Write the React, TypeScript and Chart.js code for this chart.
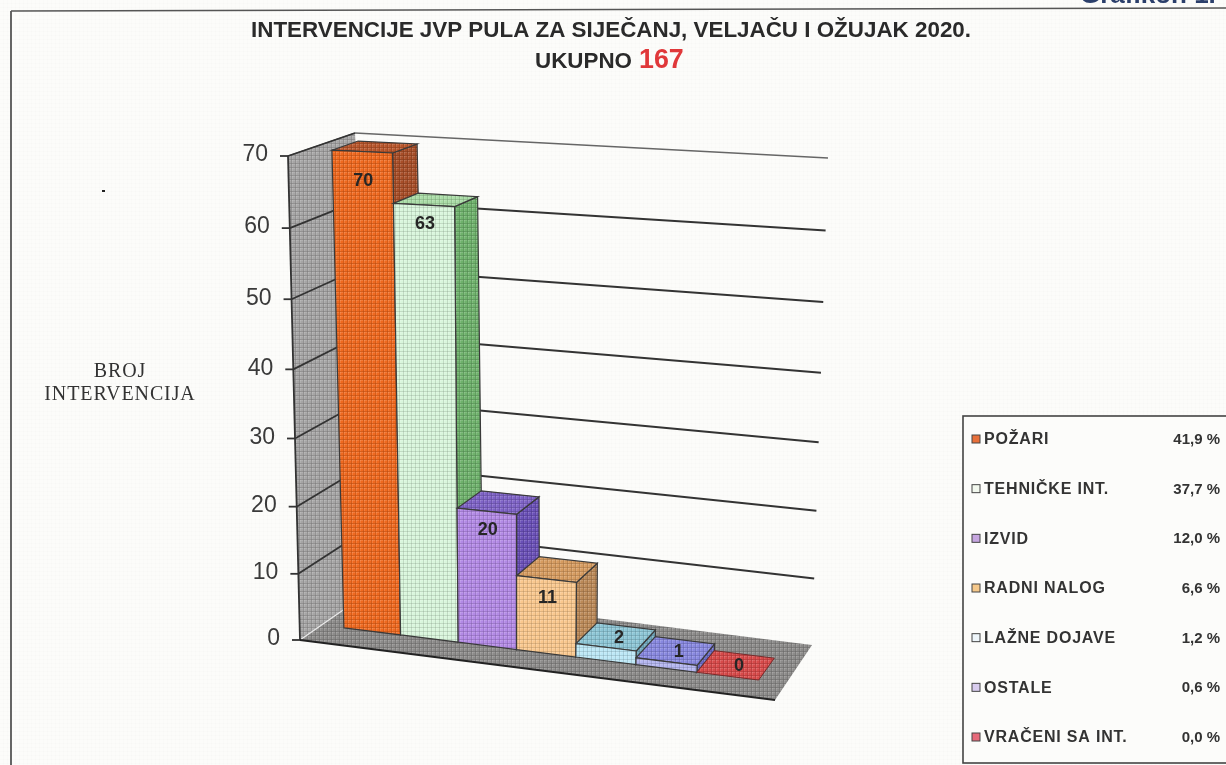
import React, { useEffect, useRef } from "react";
import { Chart, registerables } from "chart.js";

Chart.register(...registerables);

const categories = ["POŽARI", "TEHNIČKE INT.", "IZVID", "RADNI NALOG", "LAŽNE DOJAVE", "OSTALE", "VRAČENI SA INT."];
const values = [70, 63, 20, 11, 2, 1, 0];
const shares = ["41,9 %", "37,7 %", "12,0 %", "6,6 %", "1,2 %", "0,6 %", "0,0 %"];
const frontColors = ["#F0691F", "#D9F6DC", "#B38AE6", "#FAC88E", "#BCE8F6", "#B4B6F0", "#DB4A4A"];
const topColors = ["#B9562B", "#A9DCA6", "#7E62C6", "#D79C60", "#8DC6D6", "#8888E0", "#D84A4A"];
const sideColors = ["#A84E28", "#6FB26C", "#6A50B8", "#BC8A58", "#6FA8BE", "#6A6AC4", "#B83838"];
const swatchColors = ["#E8703A", "#F2F8EE", "#C6A6E0", "#F5C88A", "#EEF6FA", "#D8CCEE", "#E66A7A"];
const titleLine1 = "INTERVENCIJE JVP PULA ZA SIJEČANJ, VELJAČU I OŽUJAK 2020.";
const titleLine2 = "UKUPNO";
const totalText = "167";
const axisTitle = ["BROJ", "INTERVENCIJA"];
const cornerText = "Grafikon 1.";

type P = [number, number];
// Corners of the 3D box the scales are projected onto: front/back, bottom/top, left/right
const FBL: P = [300, 640], FTL: P = [288, 156], BBL: P = [372, 590], BTL: P = [355, 133];
const FBR: P = [775, 700], FTR: P = [795, 178], BBR: P = [812, 645], BTR: P = [828, 158];
const lerp = (a: P, b: P, t: number): P => [a[0] + (b[0] - a[0]) * t, a[1] + (b[1] - a[1]) * t];
const project = (u: number, v: number, w: number): P => {
  const front = lerp(lerp(FBL, FBR, u), lerp(FTL, FTR, u), v);
  const back = lerp(lerp(BBL, BBR, u), lerp(BTL, BTR, u), v);
  return lerp(front, back, w);
};
const U0 = 0.048, USPAN = 0.893, W0 = 0.3, W1 = 0.7, PERSP = 0.05;

function makeTexture(ctx: CanvasRenderingContext2D) {
  const c = document.createElement("canvas");
  c.width = 4; c.height = 4;
  const t = c.getContext("2d")!;
  t.fillStyle = "rgba(0,0,0,0.11)";
  t.fillRect(0, 3, 4, 1);
  t.fillRect(3, 0, 1, 4);
  t.fillStyle = "rgba(255,255,255,0.12)";
  t.fillRect(0, 0, 3, 1);
  t.fillRect(0, 0, 1, 3);
  return ctx.createPattern(c, "repeat")!;
}

function face(ctx: CanvasRenderingContext2D, pts: P[], fill: string, tex: CanvasPattern | null, stroke = "#3a3a3a", lw = 1.2) {
  ctx.beginPath();
  pts.forEach((p, i) => (i ? ctx.lineTo(p[0], p[1]) : ctx.moveTo(p[0], p[1])));
  ctx.closePath();
  ctx.fillStyle = fill;
  ctx.fill();
  if (tex) { ctx.fillStyle = tex; ctx.fill(); }
  if (lw > 0) { ctx.strokeStyle = stroke; ctx.lineWidth = lw; ctx.stroke(); }
}

function line(ctx: CanvasRenderingContext2D, a: P, b: P, color: string, lw: number) {
  ctx.beginPath();
  ctx.moveTo(a[0], a[1]);
  ctx.lineTo(b[0], b[1]);
  ctx.strokeStyle = color;
  ctx.lineWidth = lw;
  ctx.stroke();
}

const scene3d = {
  id: "scene3d",
  beforeDatasetsDraw(chart: any) {
    const ctx: any = chart.ctx;
    const area = chart.chartArea;
    const yScale = chart.scales.y;
    const tex = makeTexture(ctx);
    const toU = (px: number) => {
      const t = (px - area.left) / (area.right - area.left);
      return U0 + USPAN * (t + PERSP * t * (t - 1));
    };
    const toV = (py: number) => {
      const v = (area.bottom - py) / (area.bottom - area.top);
      return v + PERSP * v * (v - 1);
    };
    const tickV = yScale.ticks.map((t: any) => ({ value: t.value, v: toV(yScale.getPixelForValue(t.value)) }));

    ctx.save();
    // paper
    ctx.fillStyle = "#FCFCFA";
    ctx.fillRect(0, 0, chart.width, chart.height);
    ctx.fillStyle = tex; ctx.globalAlpha = 0.1;
    ctx.fillRect(0, 0, chart.width, chart.height);
    ctx.globalAlpha = 1;

    // page frame
    line(ctx, [11, 11], [1226, 8], "#555", 1.6);
    line(ctx, [11, 11], [11, 765], "#555", 1.8);

    // corner heading, cut off by the page top
    ctx.fillStyle = "#2B3F6B";
    ctx.font = "bold 26px 'Liberation Sans'";
    ctx.textAlign = "left";
    ctx.textBaseline = "alphabetic";
    ctx.fillText(cornerText, 1080, 3);

    // title
    ctx.fillStyle = "#2a2a2a";
    ctx.textBaseline = "middle";
    ctx.font = "bold 22.4px 'Liberation Sans'";
    ctx.fillText(titleLine1, 251, 31);
    ctx.fillText(titleLine2, 535, 62);
    ctx.fillStyle = "#E0383A";
    ctx.font = "bold 26.8px 'Liberation Sans'";
    ctx.fillText(totalText, 639, 61);

    // axis title
    ctx.fillStyle = "#333";
    ctx.font = "20px 'Liberation Serif'";
    ctx.textAlign = "center";
    ctx.letterSpacing = "0.9px";
    ctx.fillText(axisTitle[0], 120, 372);
    ctx.fillText(axisTitle[1], 120, 395);
    ctx.letterSpacing = "0px";

    // speck on the page
    ctx.fillStyle = "#222";
    ctx.fillRect(102, 190, 3, 2);

    // back plane grid lines
    tickV.forEach(({ v }: any) => {
      if (v <= 0) return;
      line(ctx, project(0, v, 1), project(1, v, 1), v >= 0.999 ? "#666" : "#333", v >= 0.999 ? 1.4 : 2);
    });

    // left wall and floor
    face(ctx, [project(0, 0, 0), project(0, 1, 0), project(0, 1, 1), project(0, 0, 1)], "#A6A5A5", tex, "#444", 0);
    face(ctx, [project(0, 0, 0), project(0, 0, 1), project(1, 0, 1), project(1, 0, 0)], "#8C8B8A", tex, "#444", 0);
    line(ctx, project(0, 0, 0), project(0, 0, 1), "#E8E8E8", 1.3);
    line(ctx, project(0, 0, 0), project(0, 1, 0), "#333", 1.8);
    line(ctx, project(0, 1, 0), project(0, 1, 1), "#555", 1.2);
    line(ctx, project(0, 0, 0), project(1, 0, 0), "#222", 2);

    // value axis ticks and labels
    ctx.font = "23px 'Liberation Sans'";
    ctx.textAlign = "right";
    ctx.textBaseline = "middle";
    tickV.forEach(({ value, v }: any) => {
      const a = project(0, v, 0);
      line(ctx, [a[0] - 8, a[1]], a, "#333", 1.8);
      if (v > 0) line(ctx, a, project(0, v, 1), "#333", 1.8);
      ctx.fillStyle = "#3a3a3a";
      ctx.fillText(String(value), a[0] - 20, a[1] - 1);
    });

    // bars, left to right so each front covers its neighbour's side
    const meta = chart.getDatasetMeta(0);
    const ds = chart.data.datasets[0];
    meta.data.forEach((bar: any, i: number) => {
      const u0 = toU(bar.x - bar.width / 2), u1 = toU(bar.x + bar.width / 2);
      const vTop = toV(bar.y), vBase = toV(bar.base);
      if (values[i] > 0) {
        face(ctx, [project(u1, vBase, W0), project(u1, vTop, W0), project(u1, vTop, W1), project(u1, vBase, W1)], sideColors[i], tex);
        face(ctx, [project(u0, vTop, W0), project(u1, vTop, W0), project(u1, vTop, W1), project(u0, vTop, W1)], topColors[i], tex);
        face(ctx, [project(u0, vBase, W0), project(u1, vBase, W0), project(u1, vTop, W0), project(u0, vTop, W0)], ds.backgroundColor[i], tex);
      } else {
        face(ctx, [project(u0, vTop, W0), project(u1, vTop, W0), project(u1, vTop, W1), project(u0, vTop, W1)], topColors[i], tex, "#7a2a2a", 1);
      }
    });

    // value labels
    ctx.font = "bold 18px 'Liberation Sans'";
    ctx.textAlign = "center";
    ctx.textBaseline = "middle";
    ctx.fillStyle = "#262626";
    meta.data.forEach((bar: any, i: number) => {
      const uc = toU(bar.x), vTop = toV(bar.y);
      let p: P;
      if (values[i] >= 10) {
        const f = project(uc, vTop, W0);
        p = [f[0] + 1, f[1] + (values[i] === 70 ? 29 : 19)];
      } else {
        const f = project(uc, vTop, (W0 + W1) / 2);
        p = [f[0] + 3, f[1] + 1];
      }
      ctx.fillText(String(values[i]), p[0], p[1]);
    });

    // legend table
    const boxX = 963, boxY = 416, boxB = 763;
    ctx.fillStyle = "#FCFCFA";
    ctx.fillRect(boxX, boxY, 1226 - boxX, boxB - boxY);
    ctx.strokeStyle = "#444";
    ctx.lineWidth = 1.6;
    ctx.strokeRect(boxX, boxY, 1226 - boxX + 4, boxB - boxY);
    const rowH = (737 - 439) / (categories.length - 1);
    categories.forEach((c, i) => {
      const y = 439 + rowH * i;
      ctx.fillStyle = swatchColors[i];
      ctx.fillRect(972, y - 4, 8, 8);
      ctx.strokeStyle = "#444";
      ctx.lineWidth = 1;
      ctx.strokeRect(972, y - 4, 8, 8);
      ctx.fillStyle = "#333";
      ctx.textBaseline = "middle";
      ctx.textAlign = "left";
      ctx.font = "bold 16px 'Liberation Sans'";
      ctx.letterSpacing = "0.8px";
      ctx.fillText(c, 984, y + 1);
      ctx.letterSpacing = "0px";
      ctx.textAlign = "right";
      ctx.font = "bold 15px 'Liberation Sans'";
      ctx.fillText(shares[i], 1220, y + 1);
    });
    ctx.restore();
    return false;
  },
};

export default function App() {
  const ref = useRef<HTMLCanvasElement>(null);
  useEffect(() => {
    document.body.style.margin = "0";
    document.body.style.overflow = "hidden";
    const chart = new Chart(ref.current!, {
      type: "bar",
      data: {
        labels: categories,
        datasets: [{ label: "BROJ INTERVENCIJA", data: values, backgroundColor: frontColors, barPercentage: 1, categoryPercentage: 1 }],
      },
      options: {
        responsive: false,
        animation: false,
        layout: { padding: { left: 300, right: 430, top: 156, bottom: 120 } },
        plugins: { legend: { display: false }, title: { display: false }, tooltip: { enabled: false } },
        scales: {
          x: { display: false },
          y: { display: false, min: 0, max: 70, ticks: { stepSize: 10 } },
        },
      },
      plugins: [scene3d],
    });
    return () => chart.destroy();
  }, []);
  return <canvas ref={ref} width={1226} height={765} style={{ display: "block", width: 1226, height: 765, filter: "blur(0.6px)" }} />;
}
